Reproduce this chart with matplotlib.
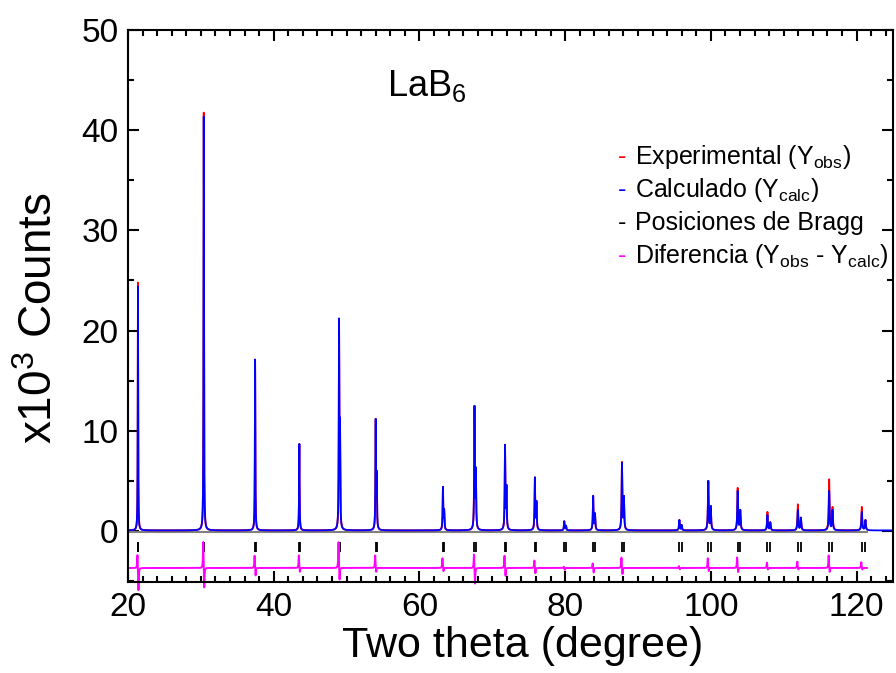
import numpy as np
import matplotlib.pyplot as plt
from matplotlib.ticker import MultipleLocator

plt.rcParams['font.family'] = ['Liberation Sans', 'DejaVu Sans']
plt.rcParams['mathtext.fontset'] = 'custom'
plt.rcParams['mathtext.rm'] = 'Liberation Sans'
plt.rcParams['mathtext.it'] = 'Liberation Sans:italic'

# LaB6 reflections (Ka1 / Ka2 positions, degrees 2theta)
two_theta_k1 = [21.36, 30.39, 37.44, 43.51, 48.96, 53.99, 63.22, 67.55, 71.74, 75.84,
                79.87, 83.84, 87.79, 95.67, 99.64, 103.67, 107.76, 111.93, 116.23, 120.71]
two_theta_k2 = [21.41, 30.47, 37.54, 43.62, 49.09, 54.13, 63.39, 67.74, 71.94, 76.06,
                80.11, 84.09, 88.06, 95.98, 99.98, 104.03, 108.15, 112.35, 116.69, 121.21]

# peak tops (x10^3 counts); unresolved Ka2 included in Ka1
calc_k1 = [24.4, 41.5, 17.1, 8.7, 21.2, 11.2, 4.4, 12.5, 8.6, 5.35,
           0.97, 3.5, 6.8, 1.1, 5.0, 4.0, 1.6, 2.1, 4.0, 1.9]
calc_k2 = [0.0, 0.0, 0.0, 0.0, 11.3, 6.0, 2.2, 6.35, 4.6, 3.0,
           0.53, 1.77, 3.5, 0.6, 2.5, 2.1, 0.87, 1.33, 2.1, 1.1]
obs_k1 = [24.8, 41.9, 17.1, 8.7, 21.2, 11.2, 4.4, 12.5, 8.6, 5.35,
          0.97, 3.5, 6.9, 1.1, 5.0, 4.3, 1.9, 2.66, 5.16, 2.4]
obs_k2 = [0.0, 0.0, 0.0, 0.0, 11.3, 6.0, 2.2, 6.35, 4.6, 3.0,
          0.53, 1.77, 3.5, 0.6, 2.5, 2.1, 0.87, 1.33, 2.4, 1.1]

# difference curve: baseline, local maxima and minima at each reflection
diff_base = -3.7
diff_up = [-2.2, -0.9, -2.4, -2.4, -1.0, -2.4, -2.7, -2.2, -2.4, -2.9,
           -3.55, -3.2, -2.6, -3.5, -2.7, -2.6, -3.15, -3.05, -2.4, -3.1]
diff_down = [-6.05, -5.9, -4.56, -4.2, -5.1, -4.2, -4.1, -5.4, -4.6, -4.3,
             -3.9, -4.2, -4.4, -3.85, -4.1, -4.2, -3.9, -3.9, -4.2, -3.9]

bragg_top = -1.1
bragg_bottom = -2.1
background = 0.05

legend_labels = ['Experimental (Y$_{\\mathrm{obs}}$)',
                 'Calculado (Y$_{\\mathrm{calc}}$)',
                 'Posiciones de Bragg',
                 'Diferencia (Y$_{\\mathrm{obs}}$ - Y$_{\\mathrm{calc}}$)']
legend_colors = ['#ff0000', '#0000ff', '#000000', '#ff00ff']


def lorentz(x, center, fwhm):
    return 1.0 / (1 + (2 * (x - center) / fwhm) ** 2)


def pattern(x, k1, k2):
    # doublet amplitudes chosen so the curve passes through the read tops
    y = np.full_like(x, background)
    for p1, p2, h1, h2 in zip(two_theta_k1, two_theta_k2, k1, k2):
        w = 0.06 + 0.0007 * (p1 - 20)
        c = lorentz(p1, p2, w)
        t1, t2 = h1 - background, max(h2 - background, 0)
        if h2 > 0:
            a1, a2 = np.linalg.solve([[1, c], [c, 1]], [t1, t2])
        else:
            a1, a2 = t1, 0.0
        y += a1 * lorentz(x, p1, w) + a2 * lorentz(x, p2, w)
    return y


def difference(x):
    y = np.full_like(x, diff_base)
    for p, up, dn in zip(two_theta_k1, diff_up, diff_down):
        y += (up - diff_base) * lorentz(x, p - 0.07, 0.09)
        y += (dn - diff_base) * lorentz(x, p + 0.07, 0.09)
    return y


x_obs = np.arange(20, 121.4, 0.004)
x_calc = np.arange(20, 125, 0.004)

fig = plt.figure(figsize=(8.96, 6.73), dpi=100)
ax = fig.add_axes([0.1429, 0.1352, 0.8538, 0.8202])

ax.plot([20, 121.4], [-0.15, -0.15], color='#808080', lw=1.5)
ax.plot(x_obs, pattern(x_obs, obs_k1, obs_k2), color='#ff0000', lw=1.3)
ax.plot(x_calc, pattern(x_calc, calc_k1, calc_k2), color='#0000ff', lw=1.3)
ax.vlines(two_theta_k1 + two_theta_k2, bragg_bottom, bragg_top, color='black', lw=1.3)
ax.plot(x_obs, difference(x_obs), color='#ff00ff', lw=1.4, clip_on=False)

ax.set_xlim(20, 125)
ax.set_ylim(-5.1, 50)
ax.xaxis.set_major_locator(MultipleLocator(20))
ax.xaxis.set_minor_locator(MultipleLocator(2))
ax.yaxis.set_major_locator(MultipleLocator(10))
ax.yaxis.set_minor_locator(MultipleLocator(5))
ax.tick_params(which='both', direction='in', top=True, right=True, width=1.5,
               labelsize=24, pad=7)
ax.tick_params(which='major', length=8)
ax.tick_params(which='minor', length=4.5)
for s in ax.spines.values():
    s.set_linewidth(1.5)

ax.set_xlabel('Two theta (degree)', fontsize=31)
ax.set_ylabel('x10$^{3}$ Counts', fontsize=33)
ax.xaxis.set_label_coords(0.516, -0.08)
ax.yaxis.set_label_coords(-0.086, 0.478)

ax.text(0.3386, 0.880, 'LaB$_{6}$', transform=ax.transAxes, fontsize=26)

for i, (lab, col) in enumerate(zip(legend_labels, legend_colors)):
    y = 0.758 - 0.06 * i
    ax.text(0.6405, y, '-', color=col, transform=ax.transAxes, fontsize=18)
    ax.text(0.6627, y, lab, color='black', transform=ax.transAxes, fontsize=18)

fig.savefig('out.png', dpi=100)
